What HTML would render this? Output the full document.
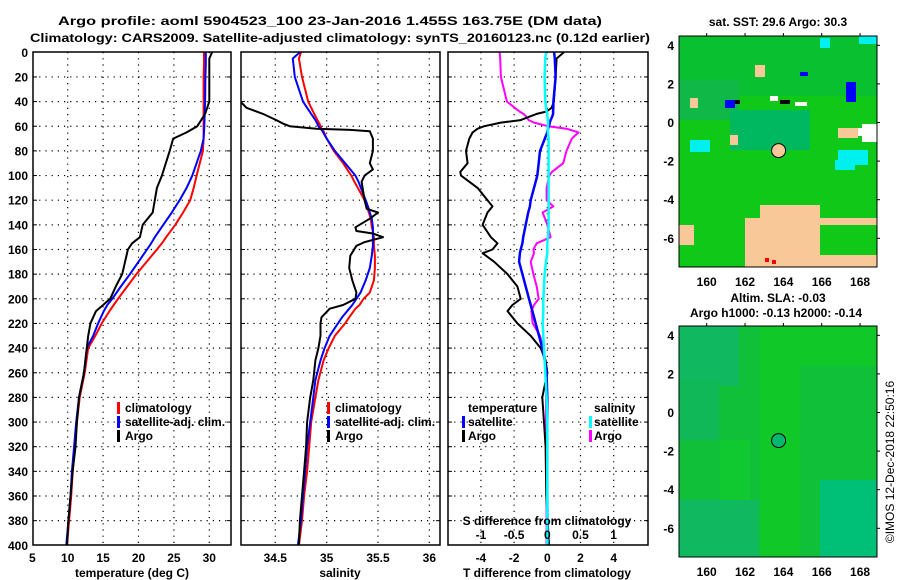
<!DOCTYPE html>
<html><head><meta charset="utf-8">
<style>
html,body{margin:0;padding:0;background:#fff;}
svg{display:block;font-family:"Liberation Sans",Arial,sans-serif;font-weight:bold;}
text{font-size:12px;fill:#000;}
</style></head>
<body>
<svg id="fig" width="900" height="580" viewBox="0 0 900 580" xmlns="http://www.w3.org/2000/svg">
<defs>
<clipPath id="c1"><rect x="33" y="52" width="198" height="493"/></clipPath>
<clipPath id="c2"><rect x="241" y="52" width="199" height="493"/></clipPath>
<clipPath id="c3"><rect x="448" y="52" width="200" height="493"/></clipPath>
<clipPath id="cm1"><rect x="679" y="36" width="198" height="231"/></clipPath>
<clipPath id="cm2"><rect x="679" y="326" width="198" height="231"/></clipPath>
</defs>
<text x="330" y="25" text-anchor="middle" font-size="13" textLength="544" lengthAdjust="spacingAndGlyphs">Argo profile: aoml 5904523_100 23-Jan-2016 1.455S 163.75E (DM data)</text>
<text x="340" y="42" text-anchor="middle" font-size="13" textLength="620" lengthAdjust="spacingAndGlyphs">Climatology: CARS2009. Satellite-adjusted climatology: synTS_20160123.nc (0.12d earlier)</text>
<g id="grid"></g>
<g id="curves"></g>
<g id="maps"></g>
<g id="frames"></g>
<g id="labels"></g>
</svg>
<script>
// ---- data ----
var depths = [0,5,10,20,40,50,60,65,70,80,100,110,120,130,140,150,155,160,180,190,200,205,210,220,230,240,260,280,300,320,340,360,380,400];
var tempClim = [29.25,29.25,29.25,29.2,29.2,29.2,29.2,29.2,29.2,29.1,28.2,27.8,27.3,26.3,25.2,23.9,23.3,22.6,19.7,18.4,17.1,16.5,15.9,14.8,13.9,12.9,12.4,11.7,11.3,11.0,10.7,10.5,10.2,9.9];
var tempSat = [29.5,29.5,29.5,29.45,29.4,29.35,29.3,29.25,29.2,28.8,27.6,26.8,25.8,24.7,23.5,22.3,21.8,21.2,18.8,17.5,16.3,15.6,15.1,14.3,13.6,12.7,12.3,11.6,11.2,10.9,10.6,10.4,10.1,9.8];
var tempArgo = [30.4,30.0,30.0,30.0,30.0,29.4,28.3,26.8,24.9,24.4,23.3,22.6,22.3,22.0,20.6,20.2,19.1,18.5,17.7,16.8,16.0,15.0,14.0,13.2,12.9,12.7,12.3,11.6,11.3,11.1,10.7,10.4,10.1,9.9];
var salDepths = [0,5,20,40,45,50,55,58,60,62,63,64,70,80,90,95,100,105,120,127,130,135,142,145,147,150,154,157,165,175,185,195,200,205,208,215,220,230,240,250,266,280,300,320,340,360,380,400];
var salClim = [34.75,34.73,34.76,34.82,34.85,34.88,34.91,34.93,34.94,34.95,34.96,34.97,35.0,35.07,35.16,35.2,35.24,35.27,35.37,35.4,35.41,35.43,35.44,35.45,35.45,35.46,35.46,35.46,35.47,35.47,35.46,35.42,35.36,35.32,35.28,35.22,35.18,35.08,35.02,34.97,34.92,34.89,34.85,34.83,34.81,34.78,34.76,34.73];
var salSat = [34.74,34.67,34.69,34.77,34.81,34.85,34.89,34.91,34.92,34.94,34.95,34.96,35.0,35.08,35.18,35.23,35.28,35.31,35.38,35.41,35.42,35.44,35.45,35.45,35.45,35.45,35.45,35.45,35.44,35.42,35.38,35.33,35.29,35.25,35.22,35.15,35.11,35.03,34.98,34.94,34.89,34.87,34.84,34.81,34.79,34.77,34.75,34.72];
var salArgo = [33.9,33.9,33.9,34.16,34.22,34.38,34.51,34.58,34.64,34.9,35.23,35.42,35.45,35.45,35.42,35.45,35.37,35.34,35.37,35.39,35.5,35.42,35.28,35.29,35.45,35.55,35.37,35.29,35.23,35.22,35.25,35.29,35.28,35.16,35.03,34.95,34.94,34.94,34.92,34.89,34.87,34.84,34.81,34.8,34.78,34.76,34.74,34.73];
var diffDepths = [0,5,20,40,45,48,50,52,55,57,60,62,65,70,80,90,97,100,110,120,125,130,140,150,155,160,163,170,180,190,200,205,210,220,230,240,250,260,280,300,320,360,400];
var tDiffArgo = [1.0,0.56,0.5,0.4,0.26,-0.04,-0.64,-1.04,-1.6,-2.8,-3.8,-4.2,-4.5,-4.7,-4.9,-4.8,-5.24,-5.2,-4.2,-3.6,-3.3,-3.6,-3.9,-3.4,-3.0,-3.3,-3.9,-3.2,-2.4,-1.8,-1.6,-2.1,-2.4,-1.8,-1.0,-0.4,-0.1,0.0,-0.3,-0.2,-0.1,-0.06,0.1];
var tDiffSat = [0.41,0.45,0.5,0.37,0.36,0.35,0.35,0.3,0.2,0.15,0.1,0.05,0.0,-0.15,-0.44,-0.52,-0.58,-0.6,-0.8,-1.0,-1.05,-1.15,-1.3,-1.45,-1.5,-1.6,-1.65,-1.7,-1.5,-1.3,-1.1,-1.0,-0.9,-0.7,-0.5,-0.3,-0.15,-0.05,0.0,0.0,0.0,0.0,0.02];
var sDiffArgo = [-0.72,-0.71,-0.70,-0.61,-0.49,-0.42,-0.36,-0.32,-0.28,-0.2,0.01,0.29,0.47,0.37,0.29,0.24,0.07,0.03,-0.01,-0.01,0.09,-0.07,0.0,0.05,-0.16,-0.21,-0.2,-0.25,-0.21,-0.16,-0.13,-0.2,-0.24,-0.22,-0.11,-0.06,-0.03,-0.01,-0.02,-0.02,-0.02,-0.01,-0.01];
var sDiffSat = [-0.02,-0.03,-0.04,-0.03,-0.02,-0.01,0.0,0.0,0.01,0.01,0.01,0.01,0.01,0.02,0.02,0.02,0.02,0.02,0.02,0.02,0.02,0.02,0.02,0.01,0.0,0.0,0.0,-0.02,-0.04,-0.05,-0.06,-0.06,-0.06,-0.07,-0.06,-0.05,-0.04,-0.03,-0.01,0.0,0.0,0.0,0.0];
var depthTicks = [0,20,40,60,80,100,120,140,160,180,200,220,240,260,280,300,320,340,360,380,400];
var tempTicks = [5,10,15,20,25,30];
var salTicks = [34.5,35,35.5,36];
var tDiffTicks = [-4,-2,0,2,4];
var sDiffTicks = [-1,-0.5,0,0.5,1];
var lonTicks = [160,162,164,166,168];
var latTicks = [4,2,0,-2,-4,-6];
var floatLon = 163.75, floatLat = -1.455;

// ---- scales ----
function yD(d){return 52.3 + d*1.2325;}
function xT(t){return 32.3 + (t-5)*7.08;}
function xS(s){return 275.3 + (s-34.5)*102.7;}
function xTD(t){return 547.3 + t*16.6;}
function xSD(s){return 547.3 + s*66.3;}
function xLon(l){return 706.7 + (l-160)*19.17;}
function yLat1(a){return 122.5 - a*19.3;}
function yLat2(a){return 412.5 - a*19.3;}

var NS='http://www.w3.org/2000/svg';
function mk(tag,attrs,parent){var e=document.createElementNS(NS,tag);for(var k in attrs)e.setAttribute(k,attrs[k]);parent.appendChild(e);return e;}
var grid=document.getElementById('grid'),curves=document.getElementById('curves'),frames=document.getElementById('frames'),labels=document.getElementById('labels'),maps=document.getElementById('maps');

var panels=[{x0:33,x1:231,xs:tempTicks,f:xT},{x0:241,x1:440,xs:salTicks,f:xS},{x0:448,x1:648,xs:tDiffTicks,f:xTD}];
panels.forEach(function(p,i){
  depthTicks.forEach(function(d){
    if(d===0||d===400)return;
    var l=mk('line',{x1:p.x0,x2:p.x1,y1:yD(d),y2:yD(d),stroke:'#000','stroke-width':1.2,'stroke-dasharray':'1.2 5'},grid);
    
    
    var t1=mk('line',{x1:p.x0,x2:p.x0+4,y1:yD(d),y2:yD(d),stroke:'#000'},grid);
    
    
    var t2=mk('line',{x1:p.x1-4,x2:p.x1,y1:yD(d),y2:yD(d),stroke:'#000'},grid);
    
    
  });
  p.xs.forEach(function(v){
    var x=p.f(v);
    if(x<=p.x0+1)return;
    var l=mk('line',{x1:x,x2:x,y1:52,y2:545,stroke:'#000','stroke-width':1.2,'stroke-dasharray':'1.2 5'},grid);
    
    
    var t=mk('text',{x:x,y:562,'text-anchor':'middle'},labels);
    t.textContent=String(v);
    
    
  });
  var r=mk('rect',{x:p.x0,y:52,width:p.x1-p.x0,height:493,fill:'none',stroke:'#000','stroke-width':1.5},frames);
  
  
});
var t5=mk('text',{x:xT(5),y:562,'text-anchor':'middle'},labels);t5.textContent='5';


depthTicks.forEach(function(d){
  var t=mk('text',{x:28,y:yD(d)+4.5,'text-anchor':'end'},labels);
  t.textContent=String(d);
  
  
});
sDiffTicks.forEach(function(v){
  var t=mk('text',{x:xSD(v),y:539,'text-anchor':'middle'},labels);
  t.textContent=String(v);
  
  
});

function line(xs,ys,fx,color,clip,name,w){
  var pts=xs.map(function(v,i){return fx(v).toFixed(1)+','+yD(ys[i]).toFixed(1);}).join(' ');
  var p=mk('polyline',{points:pts,fill:'none',stroke:color,'stroke-width':w||2,'clip-path':'url(#'+clip+')','stroke-linejoin':'round'},curves);
  
  
}
line(tempClim,depths,xT,'#f00','c1','temp-climatology-line');
line(tempSat,depths,xT,'#00f','c1','temp-satellite-line');
line(tempArgo,depths,xT,'#000','c1','temp-argo-line');
line(salClim,salDepths,xS,'#f00','c2','sal-climatology-line');
line(salSat,salDepths,xS,'#00f','c2','sal-satellite-line');
line(salArgo,salDepths,xS,'#000','c2','sal-argo-line');
line(sDiffArgo,diffDepths,xSD,'#f0f','c3','s-diff-argo-line');
line(tDiffArgo,diffDepths,xTD,'#000','c3','t-diff-argo-line');
line(tDiffSat,diffDepths,xTD,'#00f','c3','t-diff-satellite-line',2.5);
line(sDiffSat,diffDepths,xSD,'#0ff','c3','s-diff-satellite-line',2.5);

// ---- maps ----
function mapPanel(y0,clip,base,patches,yLat,name){
  var g=mk('g',{'clip-path':'url(#'+clip+')'},maps);
  
  
  mk('rect',{x:679,y:y0,width:198,height:231,fill:base},g);
  patches.forEach(function(p){mk('rect',{x:p[0],y:p[1],width:p[2],height:p[3],fill:p[4]},g);});
  var c=mk('circle',{cx:xLon(floatLon),cy:yLat(floatLat),r:7,fill:name==='sst-map'?'#f8c898':'#00b870',stroke:'#000','stroke-width':1},g);
  
  
  var fr=mk('rect',{x:679,y:y0,width:198,height:231,fill:'none',stroke:'#000','stroke-width':1},maps);
  
  
  lonTicks.forEach(function(l){
    var t=mk('text',{x:xLon(l),y:y0+250,'text-anchor':'middle'},labels);t.textContent=String(l);
    
    
    mk('line',{x1:xLon(l),x2:xLon(l),y1:y0-3,y2:y0,stroke:'#000'},maps);
  });
  latTicks.forEach(function(a){
    var t=mk('text',{x:674,y:yLat(a)+4.5,'text-anchor':'end'},labels);t.textContent=String(a);
    
    
    mk('line',{x1:877,x2:880,y1:yLat(a),y2:yLat(a),stroke:'#000'},maps);
  });
}
mapPanel(36,'cm1','#10c818',[
 [679,36,198,60,'#08c030'],[679,80,60,40,'#10b848'],[730,110,80,40,'#00b860'],
 [690,140,20,12,'#00f0f0'],[838,150,30,15,'#00f0f0'],[835,160,20,10,'#00f0f0'],[862,124,15,18,'#fff'],[845,128,20,8,'#fff'],
 [859,36,18,8,'#00f0f0'],[820,38,10,10,'#00f0f0'],[800,72,8,4,'#00f'],[846,82,10,20,'#00f'],
 [725,100,10,8,'#00f'],[735,100,5,4,'#000'],[780,100,10,4,'#000'],[770,96,8,5,'#fff'],[795,102,12,4,'#fff'],
 [690,98,8,10,'#f8c898'],[730,135,8,10,'#f8c898'],[838,128,20,10,'#f8c898'],[755,65,10,12,'#f8c898'],
 [745,218,132,49,'#f8c898'],[760,205,60,20,'#f8c898'],[679,225,15,20,'#f8c898'],[820,225,57,30,'#10c818'],[765,258,4,4,'#f00'],[772,260,4,4,'#f00']
],yLat1,'sst-map');
mapPanel(326,'cm2','#10c038',[
 [679,326,60,60,'#10b860'],[800,326,77,40,'#10c828'],[760,326,40,231,'#10c828'],[820,480,57,77,'#00c078'],[679,500,80,57,'#10b860'],[679,380,40,60,'#10b858'],[720,440,30,60,'#10c830']
],yLat2,'sla-map');

function txt(x,y,s,name,anchor,extra){var t=mk('text',Object.assign({x:x,y:y,'text-anchor':anchor||'start'},extra||{}),labels);t.textContent=s;
 
 return t;}
function mark(x,y,color,name){var r=mk('rect',{x:x,y:y-10,width:3,height:12,fill:color},labels);
 
 }
[[117,125],[327,335]].forEach(function(p,i){
  mark(p[0],412,'#f00','legend-marker-climatology');txt(p[1],412,'climatology','legend-climatology');
  mark(p[0],426,'#00f','legend-marker-satellite');txt(p[1],426,'satellite-adj. clim.','legend-satellite-adj');
  mark(p[0],440,'#000','legend-marker-argo');txt(p[1],440,'Argo','legend-argo');
});
txt(468,412,'temperature','legend-temperature-heading');
mark(462,426,'#00f','legend-marker-t-satellite');txt(468,426,'satellite','legend-t-satellite');
mark(462,440,'#000','legend-marker-t-argo');txt(468,440,'Argo','legend-t-argo');
txt(594,412,'salinity','legend-salinity-heading');
mark(589,426,'#0ff','legend-marker-s-satellite');txt(594,426,'satellite','legend-s-satellite');
mark(589,440,'#f0f','legend-marker-s-argo');txt(594,440,'Argo','legend-s-argo');
txt(547,525,'S difference from climatology','s-diff-axis-title','middle');
txt(132,577,'temperature (deg C)','temp-axis-title','middle');
txt(340,577,'salinity','salinity-axis-title','middle');
txt(547,577,'T difference from climatology','t-diff-axis-title','middle');
txt(778,26,'sat. SST: 29.6 Argo: 30.3','sst-map-title','middle');
txt(778,302,'Altim. SLA: -0.03','sla-map-title-1','middle');
txt(776,317,'Argo h1000: -0.13 h2000: -0.14','sla-map-title-2','middle');
var cr=txt(0,0,'\u00A9IMOS 12-Dec-2018 22:50:16','imos-credit','middle',{transform:'translate(894,462) rotate(-90)'});
cr.setAttribute('font-weight','normal');
</script>
</body></html>
